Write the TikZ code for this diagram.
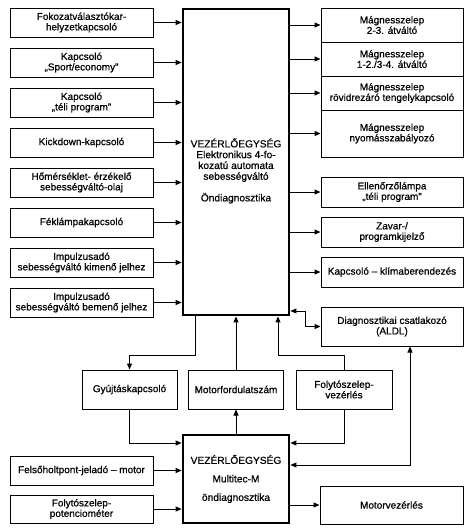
\documentclass[tikz,border=0pt]{standalone}
\usepackage{fontspec}
\setmainfont{Liberation Sans}[FakeBold=0.7]
\usetikzlibrary{arrows.meta,positioning}

\begin{document}
\begin{tikzpicture}[
    x=1pt, y=-1pt,
    node distance=10pt,
    inbox/.style={draw, line width=1pt, minimum width=143pt, minimum height=29pt, inner sep=1pt, align=center, font=\fontsize{10}{10.5}\selectfont},
    outbox/.style={inbox, minimum width=142pt},
    ecu/.style={draw, line width=2.8pt, minimum width=106pt, inner sep=2pt, align=center, font=\fontsize{10.2}{18.5}\selectfont},
    arrow/.style={-{Triangle[length=6pt,width=5pt]}, line width=1pt},
    dblarrow/.style={{Triangle[length=6pt,width=5pt]}-{Triangle[length=6pt,width=5pt]}, line width=1pt}
  ]
    \useasboundingbox (0,0) rectangle (474,530);
    % upper control unit
    \node[ecu, minimum height=306pt] (ecu1) at (236,162) {};
    \node[align=center, font=\fontsize{10.2}{10.8}\selectfont] (ecu1txt) at (236,171) {VEZÉRLŐEGYSÉG\\Elektronikus 4-fo-\\kozatú automata\\sebességváltó\\[10.8pt]Öndiagnosztika};
    % inputs on the left
    \node[inbox] (gear) at (81.5,22.5) {Fokozatválasztókar-\\helyzetkapcsoló};
    \node[inbox, below=of gear] (sport) {Kapcsoló\\„Sport/economy”};
    \node[inbox, below=of sport] (winter) {Kapcsoló\\„téli program”};
    \node[inbox, below=of winter] (kick) {Kickdown-kapcsoló};
    \node[inbox, below=of kick] (oiltemp) {Hőmérséklet- érzékelő\\sebességváltó-olaj};
    \node[inbox, below=of oiltemp] (brake) {Féklámpakapcsoló};
    \node[inbox, below=of brake] (outpulse) {Impulzusadó\\sebességváltó kimenő jelhez};
    \node[inbox, below=of outpulse] (inpulse) {Impulzusadó\\sebességváltó bemenő jelhez};
    % outputs on the right
    \node[outbox, minimum height=34pt] (sol1) at (392,25) {Mágnesszelep\\2-3. átváltó};
    \node[outbox, minimum height=34pt] (sol2) at (392,59) {Mágnesszelep\\1-2./3-4. átváltó};
    \node[outbox, minimum height=34pt] (sol3) at (392,93) {Mágnesszelep\\rövidrezáró tengelykapcsoló};
    \node[outbox, minimum height=47pt] (sol4) at (392,133.5) {Mágnesszelep\\nyomásszabályozó};
    \node[outbox, minimum height=30pt] (lamp) at (392,192) {Ellenőrzőlámpa\\„téli program”};
    \node[outbox, minimum height=30pt] (fault) at (392,232) {Zavar-/\\programkijelző};
    \node[outbox, minimum height=30pt] (clima) at (392,272) {Kapcsoló -- klímaberendezés};
    \node[outbox, minimum height=39pt] (diag) at (392,326.5) {Diagnosztikai csatlakozó\\(ALDL)};
    % shared signals
    \node[inbox, minimum width=95pt, minimum height=39pt] (ign) at (129.5,389.5) {Gyújtáskapcsoló};
    \node[inbox, minimum width=95pt, minimum height=39pt] (rpm) at (236,389.5) {Motorfordulatszám};
    \node[inbox, minimum width=96pt, minimum height=39pt] (thr) at (344,389.5) {Folytószelep-\\vezérlés};
    % engine control unit
    \node[ecu, minimum height=88pt] (ecu2) at (236,479) {VEZÉRLŐEGYSÉG\\Multitec-M\\öndiagnosztika};
    \node[inbox] (tdc) at (81.5,470.5) {Felsőholtpont-jeladó -- motor};
    \node[inbox, minimum height=28pt] (tps) at (81.5,509) {Folytószelep-\\potenciométer};
    \node[outbox, minimum width=143pt, minimum height=38pt] (engine) at (391.5,505) {Motorvezérlés};
    % connectors of the upper unit
    \draw[arrow] (gear) -- (gear -| ecu1.west);
    \draw[arrow] (sport) -- (sport -| ecu1.west);
    \draw[arrow] (winter) -- (winter -| ecu1.west);
    \draw[arrow] (kick) -- (kick -| ecu1.west);
    \draw[arrow] (oiltemp) -- (oiltemp -| ecu1.west);
    \draw[arrow] (brake) -- (brake -| ecu1.west);
    \draw[arrow] (outpulse) -- (outpulse -| ecu1.west);
    \draw[arrow] (inpulse) -- (inpulse -| ecu1.west);
    \draw[arrow] (ecu1.east |- sol1) -- (sol1);
    \draw[arrow] (ecu1.east |- sol2) -- (sol2);
    \draw[arrow] (ecu1.east |- sol3) -- (sol3);
    \draw[arrow] (ecu1.east |- sol4) -- (sol4);
    \draw[arrow] (ecu1.east |- lamp) -- (lamp);
    \draw[arrow] (ecu1.east |- fault) -- (fault);
    \draw[arrow] (ecu1.east |- clima) -- (clima);
    \coordinate (diagjog) at (305,311);
    \draw[dblarrow] (diagjog -| ecu1.east) -- (diagjog) |- (diag);
    % links between the two units
    \coordinate (ignbend) at (195,355);
    \draw[arrow] (ecu1.south -| ignbend) -- (ignbend) -| (ign);
    \draw[arrow] (rpm) -- (ecu1);
    \coordinate (thrbend) at (278,355);
    \draw[arrow] (thr) |- (thrbend) -- (thrbend |- ecu1.south);
    \coordinate (lowbus) at (0,443);
    \draw[arrow] (ign) |- (lowbus -| ecu2.west);
    \draw[arrow] (thr) |- (lowbus -| ecu2.east);
    \draw[arrow] (ecu2) -- (rpm);
    \coordinate (diagbend) at (410,465);
    \draw[dblarrow] (diagbend -| ecu2.east) -- (diagbend) -- (diagbend |- diag.south);
    % connectors of the lower unit
    \draw[arrow] (tdc) -- (tdc -| ecu2.west);
    \draw[arrow] (tps) -- (tps -| ecu2.west);
    \draw[arrow] (ecu2.east |- engine) -- (engine);
\end{tikzpicture}
\end{document}
